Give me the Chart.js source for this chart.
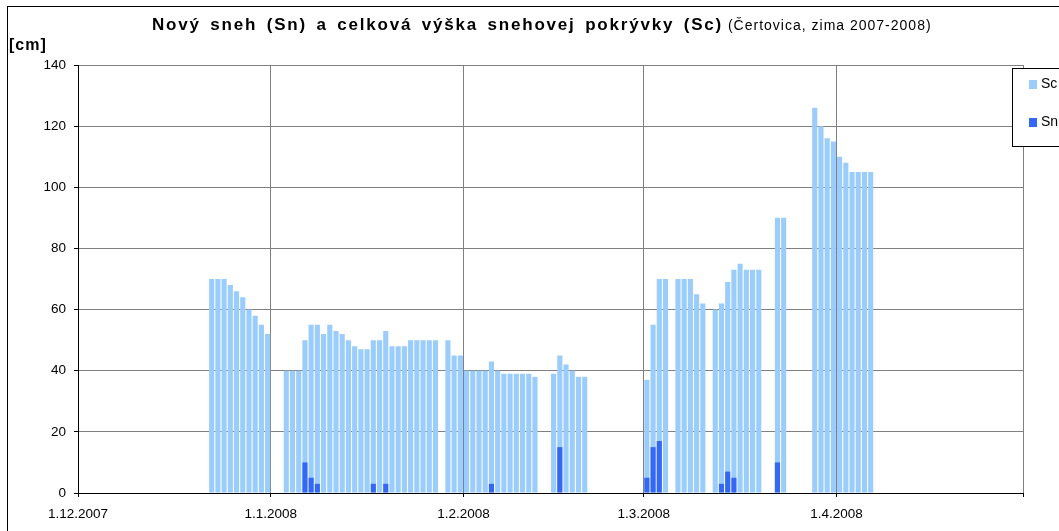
<!DOCTYPE html>
<html>
<head>
<meta charset="utf-8">
<script src="https://cdn.jsdelivr.net/npm/chart.js@4.4.0/dist/chart.umd.min.js"></script>
<style>
  html, body { margin: 0; padding: 0; background: #fff; }
  #wrap { position: absolute; left: 0; top: 0; width: 1059px; height: 531px; overflow: hidden; }
  #ramik { position: absolute; left: 7px; top: 6px; width: 1100px; height: 600px; border: 1px solid #000; }
  #titulok { position: absolute; left: 152px; top: 16px; white-space: nowrap; line-height: 18px; color: #000; }
  #titulok b { font-family: "Liberation Sans"; font-weight: bold; font-size: 17px; letter-spacing: 1.8px; word-spacing: 3px; }
  #titulok span { font-family: "Liberation Sans"; font-size: 14px; letter-spacing: 1px; }
  #jednotka { position: absolute; left: 9px; top: 36px; line-height: 18px; font-family: "Liberation Sans"; font-weight: bold;
              font-size: 16px; letter-spacing: 1px; }
  #legenda { position: absolute; left: 1012px; top: 68px; width: 80px; height: 77px; border: 1px solid #000; background: #fff;
             font-family: "Liberation Sans"; font-size: 14px; }
  .pol { position: absolute; left: 16px; height: 16px; line-height: 16px; }
  .pol i { display: inline-block; width: 8px; height: 9px; margin-right: 4px; vertical-align: -1px; }
</style>
</head>
<body>
<div id="wrap">
  <div id="ramik"></div>
  <canvas id="GraficoSneh"></canvas>
  <div id="titulok"><b>Nový sneh (Sn) a celková výška snehovej pokrývky (Sc)</b><span> (Čertovica, zima 2007-2008)</span></div>
  <div id="jednotka">[cm]</div>
  <div id="legenda">
    <div class="pol" style="top:6px"><i style="background:#99CCFF"></i>Sc</div>
    <div class="pol" style="top:44px"><i style="background:#3366FF"></i>Sn</div>
  </div>
</div>
<script>
// celkova vyska snehu (Sc), den po dni od 22.12.2007, null = bez merania
var scZaciatok = '22.12.2007';
var scHodnoty = [
  70, 70, 70, 68, 66, 64, 60, 58, 55, 52,                       // 22.12. - 31.12.
  null, null,                                                   // 1.1. - 2.1.
  40, 40, 40, 50, 55, 55, 52, 55, 53, 52, 50, 48, 47, 47, 50,   // 3.1. - 17.1.
  50, 53, 48, 48, 48, 50, 50, 50, 50, 50,                       // 18.1. - 27.1.
  null, 50, 45, 45,                                             // 28.1. - 31.1.
  40, 40, 40, 40, 43, 40, 39, 39, 39, 39, 39, 38,               // 1.2. - 12.2.
  null, null, 39, 45, 42, 40, 38, 38,                           // 13.2. - 20.2.
  null, null, null, null, null, null, null, null, null,         // 21.2. - 29.2.
  37, 55, 70, 70, null, 70, 70, 70, 65, 62, null,               // 1.3. - 11.3.
  60, 62, 69, 73, 75, 73, 73, 73, null, null,                   // 12.3. - 21.3.
  90, 90, null, null, null, null,                               // 22.3. - 27.3.
  126, 120, 116, 115,                                           // 28.3. - 31.3.
  110, 108, 105, 105, 105, 105                                  // 1.4. - 6.4.
];

// novy sneh (Sn)
var snDni = ['6.1.2008', '7.1.2008', '8.1.2008', '17.1.2008', '19.1.2008', '5.2.2008', '16.2.2008',
             '1.3.2008', '2.3.2008', '3.3.2008', '13.3.2008', '14.3.2008', '15.3.2008', '22.3.2008'];
var snHodnoty = [10, 5, 3, 3, 3, 3, 15, 5, 15, 17, 3, 7, 5, 10];

var yTicky = [0, 20, 40, 60, 80, 100, 120, 140];

// vsetky dni 1.12.2007 - 30.4.2008
var dni = [];
var d = new Date(2007, 11, 1);
var koniec = new Date(2008, 4, 1);
while (d < koniec) {
  dni.push(d.getDate() + '.' + (d.getMonth() + 1) + '.' + d.getFullYear());
  d.setDate(d.getDate() + 1);
}

var sc = dni.map(function() { return null; });
var i0 = dni.indexOf(scZaciatok);
scHodnoty.forEach(function(v, i) { sc[i0 + i] = v; });

var sn = dni.map(function() { return null; });
snDni.forEach(function(den, i) { sn[dni.indexOf(den)] = snHodnoty[i]; });

function prvyDen(i) { return dni[i] && dni[i].indexOf('1.') === 0; }

var seda = '#808080';
var ctx = document.getElementById('GraficoSneh').getContext('2d');
var GraficoSneh = new Chart(ctx, {
  type: 'bar',
  data: {
    labels: dni,
    datasets: [{
      label: 'Sc',
      data: sc,
      backgroundColor: '#99CCFF',
      order: 1
    }, {
      label: 'Sn',
      data: sn,
      backgroundColor: '#3366FF',
      order: 0
    }]
  },
  options: {
    responsive: true,
    maintainAspectRatio: false,
    animation: false,
    datasets: { bar: { grouped: false, barPercentage: 0.82, categoryPercentage: 1 } },
    layout: { padding: { left: 8, right: 36, top: 65, bottom: 8 } },
    plugins: { legend: { display: false }, tooltip: { enabled: false } },
    scales: {
      x: {
        offset: true,
        afterFit: function(s) { s.height = 30; },
        border: { color: '#000', width: 1 },
        grid: {
          offset: true,
          tickLength: 4,
          color: function(c) {
            if (c.type !== 'tick') return seda;
            if (c.index === 0) return 'rgba(0,0,0,0)';
            return prvyDen(c.index) ? seda : 'rgba(0,0,0,0)';
          },
          tickColor: function(c) {
            if (c.type !== 'tick') return '#000';
            return prvyDen(c.index) ? '#000' : 'rgba(0,0,0,0)';
          }
        },
        ticks: {
          autoSkip: false,
          maxRotation: 0,
          minRotation: 0,
          padding: 9,
          labelOffset: -3.1,
          color: '#000',
          font: { family: 'Liberation Sans', size: 13.5 },
          callback: function(v, i) { return prvyDen(i) ? dni[i] : ''; }
        }
      },
      y: {
        min: 0,
        max: 140,
        afterFit: function(s) { s.width = 70; },
        afterBuildTicks: function(s) { s.ticks = yTicky.map(function(v) { return { value: v }; }); },
        border: { color: '#000', width: 1 },
        grid: { color: seda, tickLength: 4, tickColor: '#000' },
        ticks: {
          padding: 8,
          color: '#000',
          font: { family: 'Liberation Sans', size: 13.5 }
        }
      }
    }
  }
});
</script>
</body>
</html>
